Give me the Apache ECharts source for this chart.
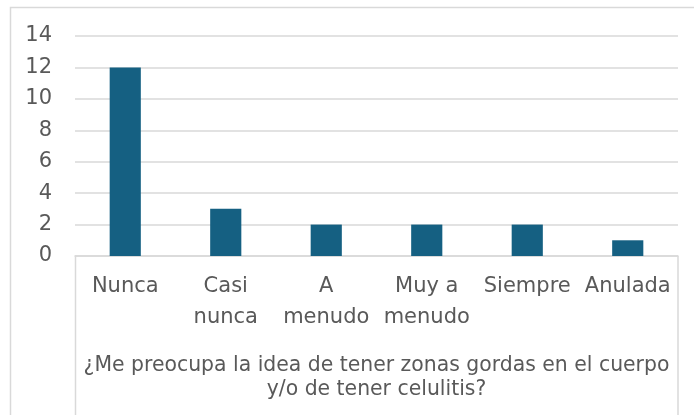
<!DOCTYPE html>
<html>
<head>
    <meta charset="utf-8">
    <title>¿Me preocupa la idea de tener zonas gordas?</title>
    <script src="https://cdn.jsdelivr.net/npm/echarts@6/dist/echarts.min.js"></script>
    <style>
        html, body { margin: 0; padding: 0; background: #fff; }
        #chart { width: 694px; height: 415px; }
    </style>
</head>
<body>
<div id="chart"></div>
<script type="text/javascript">
    // datos
    var categorias = ['Nunca', 'Casi\nnunca', 'A\nmenudo', 'Muy a\nmenudo', 'Siempre', 'Anulada'];
    var respuestas = [12, 3, 2, 2, 2, 1];
    var tituloEje = '¿Me preocupa la idea de tener zonas gordas en el cuerpo\ny/o de tener celulitis?';

    var gris = '#595959';
    var linea = '#d9d9d9';
    var fuente = 'DejaVu Sans';

    var myChart = echarts.init(document.getElementById('chart'));
    myChart.setOption({
        animation: false,
        grid: { left: 75, right: 16, top: 36, bottom: 159 },
        xAxis: {
            type: 'category',
            data: categorias,
            name: tituloEje,
            nameLocation: 'middle',
            nameGap: 98,
            nameTextStyle: { color: gris, fontSize: 20.4, fontFamily: fuente, lineHeight: 24 },
            axisLine: { lineStyle: { color: linea, width: 1.5 } },
            axisTick: { show: false },
            axisLabel: { color: gris, fontSize: 21, fontFamily: fuente, lineHeight: 31, margin: 15, interval: 0 }
        },
        yAxis: {
            type: 'value',
            min: 0,
            max: 14,
            interval: 2,
            axisLine: { show: false },
            axisTick: { show: false },
            axisLabel: { color: gris, fontSize: 21, fontFamily: fuente, margin: 23 },
            splitLine: { lineStyle: { color: linea, width: 1.5 } }
        },
        series: [{
            type: 'bar',
            data: respuestas,
            barWidth: '31%',
            itemStyle: { color: '#156082' }
        }],
        graphic: [
            // marco del grafico
            { type: 'rect', shape: { x: 10.5, y: 7.5, width: 720, height: 440 },
              style: { fill: 'none', stroke: linea, lineWidth: 1.5 }, silent: true },
            // bordes de la caja de categorias
            { type: 'line', shape: { x1: 75.5, y1: 256, x2: 75.5, y2: 415 },
              style: { stroke: linea, lineWidth: 1.5 }, silent: true },
            { type: 'line', shape: { x1: 678, y1: 256, x2: 678, y2: 415 },
              style: { stroke: linea, lineWidth: 1.5 }, silent: true }
        ]
    });
</script>
</body>
</html>
